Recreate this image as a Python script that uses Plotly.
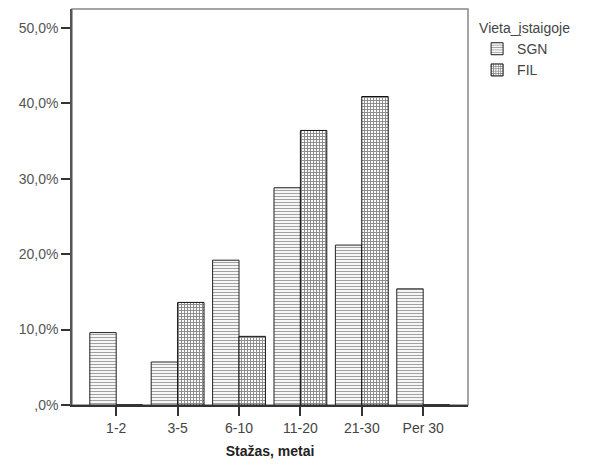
import plotly.graph_objects as go

categories = ["1-2", "3-5", "6-10", "11-20", "21-30", "Per 30"]
sgn_values = [9.6, 5.7, 19.2, 28.8, 21.2, 15.4]
fil_values = [0.0, 13.6, 9.1, 36.4, 40.9, 0.0]
y_tick_vals = [0, 10, 20, 30, 40, 50]
y_tick_text = [",0%", "10,0%", "20,0%", "30,0%", "40,0%", "50,0%"]

FONT = "Liberation Sans, Arial, sans-serif"

fig = go.Figure()
fig.add_trace(go.Bar(
    name="SGN", x=categories, y=sgn_values,
    marker=dict(color="white", line=dict(color="#222", width=1),
                pattern=dict(shape="-", fgcolor="#444", bgcolor="white", size=3, solidity=0.4)),
))
fig.add_trace(go.Bar(
    name="FIL", x=categories, y=fil_values,
    marker=dict(color="white", line=dict(color="#111", width=1),
                pattern=dict(shape="+", fgcolor="#1a1a1a", bgcolor="white", size=3, solidity=0.55)),
))

fig.update_layout(
    width=582, height=460,
    margin=dict(l=64, r=122, t=1, b=63),
    paper_bgcolor="white", plot_bgcolor="white",
    barmode="group", bargap=0.14, bargroupgap=0,
    font=dict(family=FONT, size=14, color="#444"),
    showlegend=True,
    legend=dict(
        title=dict(text="Vieta_įstaigoje", font=dict(family=FONT, size=14, color="#444")),
        x=1.023, xanchor="left", y=0.985, yanchor="top",
        font=dict(family=FONT, size=14, color="#444"),
        itemwidth=30, tracegroupgap=0,
        bgcolor="rgba(0,0,0,0)",
    ),
    xaxis=dict(
        type="category", range=[-0.72, 5.73],
        showgrid=False, zeroline=False,
        showline=True, linecolor="#333", linewidth=1.5,
        ticks="outside", ticklen=9, tickcolor="#333", tickwidth=1.5,
        tickfont=dict(family=FONT, size=14, color="#444"),
        title=dict(text="<b>Stažas, metai</b>", font=dict(family=FONT, size=14, color="#222"), standoff=12),
    ),
    yaxis=dict(
        range=[0, 52.5],
        tickvals=y_tick_vals, ticktext=y_tick_text,
        showgrid=False, zeroline=False,
        showline=True, linecolor="#555", linewidth=1.5,
        ticks="outside", ticklen=9, tickcolor="#333", tickwidth=1.5,
        tickfont=dict(family=FONT, size=14, color="#555"),
    ),
    shapes=[dict(type="rect", xref="paper", yref="paper", x0=0, y0=0, x1=1, y1=1,
                 line=dict(color="#888", width=1.5), layer="below")],
)

fig.write_html("out.html")
